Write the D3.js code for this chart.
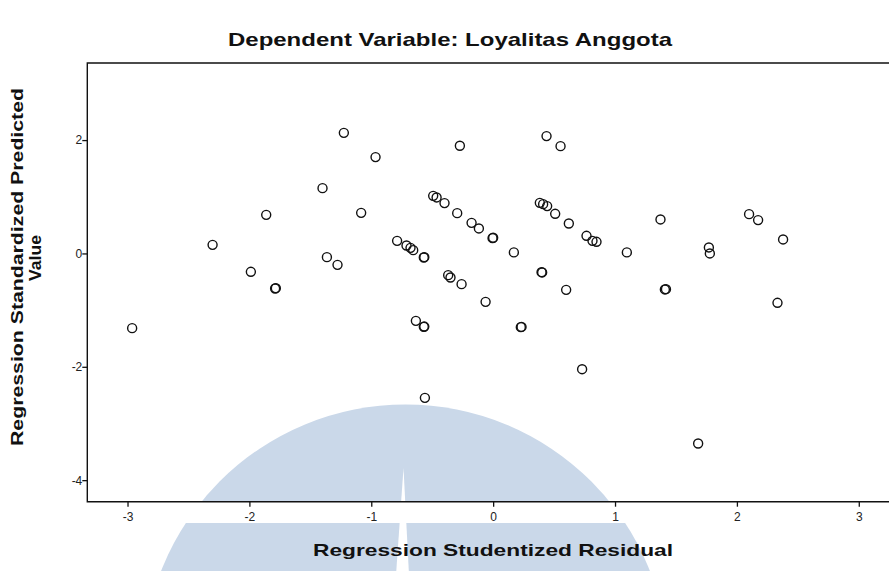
<!DOCTYPE html>
<html>
<head>
<meta charset="utf-8">
<script src="https://cdn.jsdelivr.net/npm/d3@7"></script>
<style>
    body { margin: 0; background: #fff; }
    svg { display: block; font-family: Arial, 'Liberation Sans', sans-serif; }
</style>
</head>
<body>
<div id="chart"></div>
<script>
// values (studentized residual vs standardized predicted)
const residual = [
    -1.225, -0.965, -0.273, -1.400, -1.862, -1.083, -2.302, -1.988, -1.789, -1.783,
    -1.364, -1.277, -0.788, -0.711, -0.678, -0.656, -0.569, -0.565, -0.492, -0.464,
    -0.399, -0.295, -0.177, -0.117, -0.005, 0.000, -0.369, -0.350, -0.259, -0.062,
    -2.962, -0.634, -0.569, -0.565, -0.560, 0.438, 0.553, 0.170, 0.383, 0.410,
    0.443, 0.509, 0.621, 0.766, 0.815, 0.848, 1.097, 1.373, 1.770, 1.778,
    2.100, 2.174, 2.379, 0.402, 0.397, 0.599, 1.409, 1.418, 0.227, 0.233,
    2.333, 0.730, 1.682
];
const predicted = [
    2.128, 1.700, 1.900, 1.152, 0.681, 0.716, 0.152, -0.324, -0.618, -0.612,
    -0.065, -0.201, 0.222, 0.141, 0.099, 0.058, -0.071, -0.065, 1.016, 0.988,
    0.888, 0.711, 0.540, 0.441, 0.270, 0.276, -0.383, -0.424, -0.542, -0.854,
    -1.318, -1.189, -1.295, -1.290, -2.548, 2.070, 1.893, 0.018, 0.893, 0.870,
    0.835, 0.699, 0.529, 0.311, 0.222, 0.205, 0.018, 0.600, 0.106, 0.000,
    0.693, 0.588, 0.247, -0.335, -0.330, -0.642, -0.635, -0.630, -1.300, -1.296,
    -0.871, -2.042, -3.353
];
const xTicks = [-3, -2, -1, 0, 1, 2, 3];
const yTicks = [-4, -2, 0, 2];

const chartTitle = 'Dependent Variable: Loyalitas Anggota';
const xTitle = 'Regression Studentized Residual';
const yTitle = ['Regression Standardized Predicted', 'Value'];

const width = 889, height = 571;
const plot = { left: 87.3, top: 63, bottom: 501.7, right: 899 };

const svg = d3.select('#chart').append('svg')
    .attr('width', width)
    .attr('height', height);

const x = d3.scaleLinear().domain([-3.33, 3.33]).range([plot.left, plot.right]);
const y = d3.scaleLinear().domain([-4.38, 3.36]).range([plot.bottom, plot.top]);

// watermark behind the chart (light blue dome with white notch)
function drawWatermark() {
    const g = svg.append('g').classed('watermark', true);
    g.append('circle')
        .attr('cx', 405.5)
        .attr('cy', 667)
        .attr('r', 262.6)
        .attr('fill', '#cad8e9');
    g.append('rect')
        .attr('x', 0)
        .attr('y', plot.bottom)
        .attr('width', width)
        .attr('height', 523 - plot.bottom)
        .attr('fill', '#fff');
    g.append('path')
        .attr('d', 'M403.5,468 L396,575 L409,575 Z')
        .attr('fill', '#fff');
}

drawWatermark();

// frame (right side runs off the picture)
svg.append('path')
    .attr('d', 'M' + plot.right + ',' + plot.top + ' H' + plot.left + ' V' + plot.bottom + ' H' + plot.right)
    .attr('fill', 'none')
    .attr('stroke', '#111')
    .attr('stroke-width', 1.4);

const xAxis = svg.append('g')
    .attr('transform', 'translate(0,' + plot.bottom + ')')
    .call(d3.axisBottom(x).tickValues(xTicks).tickSize(5).tickFormat(d => String(d)));
const yAxis = svg.append('g')
    .attr('transform', 'translate(' + plot.left + ',0)')
    .call(d3.axisLeft(y).tickValues(yTicks).tickSize(5).tickFormat(d => String(d)));

[xAxis, yAxis].forEach(ax => {
    ax.select('.domain').remove();
    ax.selectAll('line').attr('stroke', '#111').attr('stroke-width', 1.3);
    ax.selectAll('text')
        .attr('fill', '#222')
        .style('font-size', '12px')
        .style('font-family', 'Arial, "Liberation Sans", sans-serif');
});
xAxis.selectAll('text').attr('y', 11);
yAxis.selectAll('text').attr('x', -5);

// points
svg.append('g')
    .selectAll('circle')
    .data(d3.range(residual.length))
  .enter().append('circle')
    .attr('cx', i => x(residual[i]))
    .attr('cy', i => y(predicted[i]))
    .attr('r', 4.5)
    .attr('fill', 'none')
    .attr('stroke', '#111')
    .attr('stroke-width', 1.4);

// titles
svg.append('text')
    .attr('x', 450)
    .attr('y', 46)
    .attr('text-anchor', 'middle')
    .attr('textLength', 444)
    .attr('lengthAdjust', 'spacingAndGlyphs')
    .style('font-size', '19px')
    .style('font-weight', 'bold')
    .attr('fill', '#111')
    .text(chartTitle);

svg.append('text')
    .attr('x', 493)
    .attr('y', 556)
    .attr('text-anchor', 'middle')
    .attr('textLength', 360)
    .attr('lengthAdjust', 'spacingAndGlyphs')
    .style('font-size', '17px')
    .style('font-weight', 'bold')
    .attr('fill', '#111')
    .text(xTitle);

const yLab = svg.append('g')
    .attr('transform', 'translate(23,267) rotate(-90)');
yLab.append('text')
    .attr('x', 0)
    .attr('y', 0)
    .attr('text-anchor', 'middle')
    .attr('textLength', 358)
    .attr('lengthAdjust', 'spacingAndGlyphs')
    .style('font-size', '17px')
    .style('font-weight', 'bold')
    .attr('fill', '#111')
    .text(yTitle[0]);
yLab.append('text')
    .attr('x', 9)
    .attr('y', 18)
    .attr('text-anchor', 'middle')
    .attr('textLength', 46)
    .attr('lengthAdjust', 'spacingAndGlyphs')
    .style('font-size', '17px')
    .style('font-weight', 'bold')
    .attr('fill', '#111')
    .text(yTitle[1]);
</script>
</body>
</html>
